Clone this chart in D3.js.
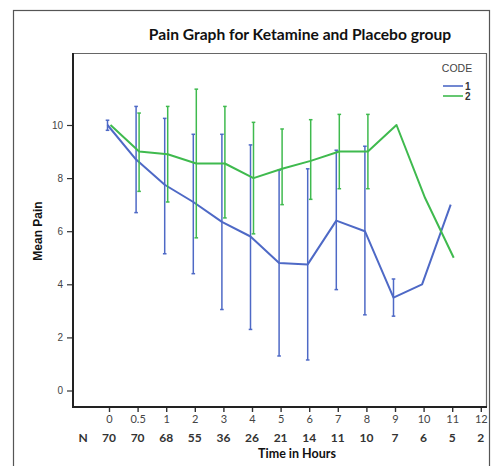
<!DOCTYPE html>
<html>
<head>
<meta charset="utf-8">
<script src="https://cdn.jsdelivr.net/npm/d3@7/dist/d3.min.js"></script>
<style>
  html, body { margin: 0; padding: 0; background: #fff; }
  svg { display: block; }
</style>
</head>
<body>
<svg id="chart" width="491" height="466"></svg>
<script>
// ---- data ----
const times = ["0", "0.5", "1", "2", "3", "4", "5", "6", "7", "8", "9", "10", "11", "12"];
const nCounts = [70, 70, 68, 55, 36, 26, 21, 14, 11, 10, 7, 6, 5, 2];
const yTicks = [0, 2, 4, 6, 8, 10];

const code1Mean  = [10.0, 8.7, 7.75, 7.1, 6.35, 5.8, 4.8, 4.75, 6.4, 6.0, 3.5, 4.0, 7.0, null];
const code1Lower = [9.8, 6.7, 5.15, 4.4, 3.05, 2.3, 1.3, 1.15, 3.8, 2.85, 2.8, null, null, null];
const code1Upper = [10.18, 10.7, 10.25, 9.65, 9.65, 9.25, 8.3, 8.35, 9.05, 9.2, 4.2, null, null, null];

const code2Mean  = [10.0, 9.0, 8.9, 8.55, 8.55, 8.0, 8.35, 8.65, 9.0, 9.0, 10.0, 7.25, 5.0, null];
const code2Lower = [null, 7.5, 7.1, 5.75, 6.5, 5.9, 7.0, 7.2, 7.6, 7.6, null, null, null, null];
const code2Upper = [null, 10.45, 10.7, 11.35, 10.7, 10.1, 9.85, 10.2, 10.4, 10.4, null, null, null, null];

const seriesNames = ["1", "2"];
const colors = ["#4e69c6", "#3fba4e"];

// ---- layout ----
const svg = d3.select("#chart");
const plot = { left: 73, top: 53, right: 486, bottom: 407 };

const x = d3.scalePoint().domain(times).range([109, 480.8]);
const y = d3.scaleLinear().domain([0, 10]).range([390.5, 125]);

// outer frame
svg.append("rect")
  .attr("x", 13.5).attr("y", 10.5)
  .attr("width", 476).attr("height", 470)
  .attr("fill", "none").attr("stroke", "#555").attr("stroke-width", 1.2);

// title
svg.append("text")
  .attr("x", 300).attr("y", 40)
  .attr("text-anchor", "middle")
  .style("font-family", "Lato, 'Open Sans', sans-serif")
  .style("font-weight", "bold")
  .style("font-size", "15.6px")
  .attr("fill", "#111")
  .text("Pain Graph for Ketamine and Placebo group");

// plot frame (top/right thin)
svg.append("path")
  .attr("d", `M${plot.left},${plot.top + 0.5}H${plot.right + 0.5}V${plot.bottom}`)
  .attr("fill", "none").attr("stroke", "#666").attr("stroke-width", 1.2);

// y axis
const yAxis = d3.axisLeft(y).tickValues(yTicks).tickSize(6).tickPadding(4);
const gy = svg.append("g").attr("transform", `translate(${plot.left},0)`).call(yAxis);
gy.select(".domain").remove();
gy.selectAll(".tick line").attr("stroke", "#333").attr("stroke-width", 1.2);
gy.selectAll(".tick text")
  .style("font-family", "Arial, 'Liberation Sans', sans-serif")
  .style("font-size", "10px").attr("fill", "#444");
svg.append("line")
  .attr("x1", plot.left).attr("x2", plot.left)
  .attr("y1", plot.top).attr("y2", plot.bottom + 1)
  .attr("stroke", "#222").attr("stroke-width", 2);

// x axis
const xAxis = d3.axisBottom(x).tickSize(5).tickPadding(3);
const gx = svg.append("g").attr("transform", `translate(0,${plot.bottom})`).call(xAxis);
gx.select(".domain").remove();
gx.selectAll(".tick line").attr("stroke", "#333").attr("stroke-width", 1.4);
gx.selectAll(".tick text")
  .style("font-family", "Lato, 'Open Sans', sans-serif")
  .style("font-size", "11px").attr("fill", "#444");
svg.append("line")
  .attr("x1", plot.left - 1).attr("x2", plot.right + 1)
  .attr("y1", plot.bottom).attr("y2", plot.bottom)
  .attr("stroke", "#222").attr("stroke-width", 2);

// N row
svg.append("text")
  .attr("x", 83).attr("y", 441.5)
  .attr("text-anchor", "middle")
  .style("font-family", "Lato, 'Open Sans', sans-serif")
  .style("font-weight", "bold").style("font-size", "12px")
  .attr("fill", "#333").text("N");
svg.append("g").selectAll("text").data(times).join("text")
  .attr("x", d => x(d)).attr("y", 441.5)
  .attr("text-anchor", "middle")
  .style("font-family", "Lato, 'Open Sans', sans-serif")
  .style("font-weight", "bold").style("font-size", "12px")
  .attr("fill", "#333")
  .text((d, i) => nCounts[i]);

// axis titles
svg.append("text")
  .attr("x", 297).attr("y", 457.5)
  .attr("text-anchor", "middle")
  .style("font-family", "Lato, 'Open Sans', sans-serif")
  .style("font-weight", "bold").style("font-size", "12.5px")
  .attr("fill", "#111").text("Time in Hours");
svg.append("text")
  .attr("transform", "translate(42,231) rotate(-90)")
  .attr("text-anchor", "middle")
  .style("font-family", "Arial, 'Liberation Sans', sans-serif")
  .style("font-weight", "bold").style("font-size", "12px")
  .attr("fill", "#111").text("Mean Pain");

// series
const series = [
  { mean: code1Mean, lower: code1Lower, upper: code1Upper, dx: -1.5 },
  { mean: code2Mean, lower: code2Lower, upper: code2Upper, dx: 1.5 }
];

series.forEach((s, si) => {
  const g = svg.append("g");
  const pts = times.map((t, i) => ({ t, i, m: s.mean[i], lo: s.lower[i], hi: s.upper[i] }));
  const eb = pts.filter(p => p.lo != null && p.hi != null);
  g.selectAll("line.eb").data(eb).join("line")
    .attr("x1", p => x(p.t) + s.dx).attr("x2", p => x(p.t) + s.dx)
    .attr("y1", p => y(p.lo)).attr("y2", p => y(p.hi))
    .attr("stroke", colors[si]).attr("stroke-width", 1.5);
  ["lo", "hi"].forEach(k => {
    g.selectAll("line.cap" + k).data(eb).join("line")
      .attr("x1", p => x(p.t) + s.dx - 1.8).attr("x2", p => x(p.t) + s.dx + 1.8)
      .attr("y1", p => y(p[k])).attr("y2", p => y(p[k]))
      .attr("stroke", colors[si]).attr("stroke-width", 1.5);
  });
  const line = d3.line()
    .defined(p => p.m != null)
    .x(p => x(p.t) + s.dx)
    .y(p => y(p.m));
  g.append("path").datum(pts)
    .attr("d", line)
    .attr("fill", "none").attr("stroke", colors[si])
    .attr("stroke-width", 2).attr("stroke-linejoin", "round");
});

// legend
svg.append("text")
  .attr("x", 457).attr("y", 72)
  .attr("text-anchor", "middle")
  .style("font-family", "Arial, 'Liberation Sans', sans-serif")
  .style("font-size", "10.5px")
  .attr("fill", "#444").text("CODE");
seriesNames.forEach((nm, i) => {
  const ly = 86 + i * 10;
  svg.append("line")
    .attr("x1", 443).attr("x2", 463)
    .attr("y1", ly).attr("y2", ly)
    .attr("stroke", colors[i]).attr("stroke-width", 1.6);
  svg.append("text")
    .attr("x", 465).attr("y", ly + 3.5)
    .style("font-family", "Arial, 'Liberation Sans', sans-serif")
    .style("font-weight", "bold").style("font-size", "10px")
    .attr("fill", "#333").text(nm);
});
</script>
</body>
</html>
